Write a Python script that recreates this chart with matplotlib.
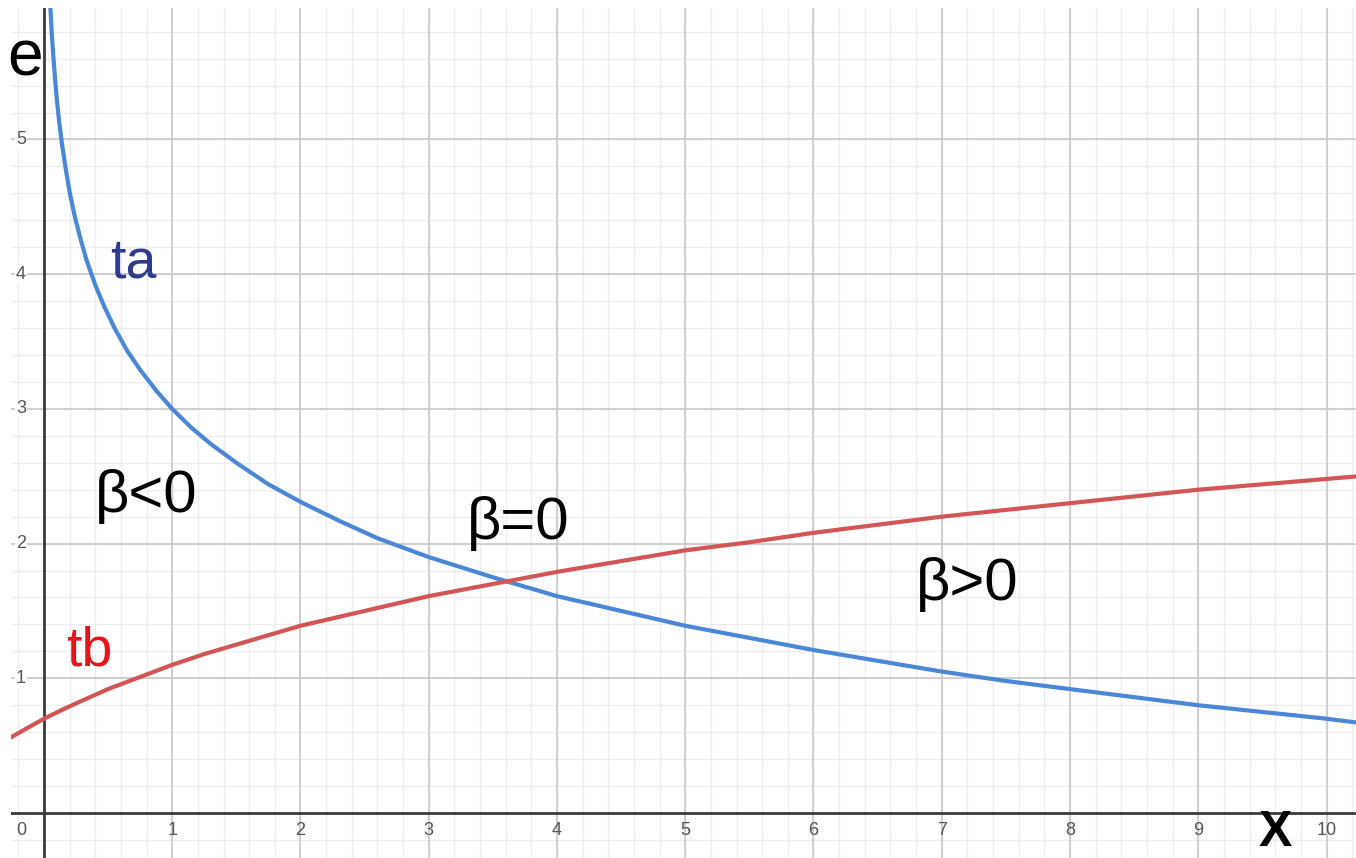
import matplotlib.pyplot as plt
import numpy as np

# ---- data ----
ta_x = [0.05, 0.06, 0.07, 0.08, 0.09, 0.1, 0.12, 0.14, 0.17, 0.2, 0.24, 0.28,
        0.33, 0.4, 0.47, 0.55, 0.65, 0.75, 0.88, 1.0, 1.15, 1.3, 1.5, 1.75,
        2.0, 2.3, 2.6, 3.0, 3.5, 4.0, 4.5, 5.0, 5.5, 6.0, 6.5, 7.0, 7.5, 8.0,
        8.5, 9.0, 9.5, 10.0, 10.25]
ta_y = [5.98, 5.80, 5.66, 5.53, 5.41, 5.30, 5.12, 4.97, 4.78, 4.61, 4.43, 4.28,
        4.11, 3.92, 3.76, 3.60, 3.43, 3.29, 3.13, 3.00, 2.86, 2.74, 2.60, 2.44,
        2.31, 2.17, 2.04, 1.90, 1.75, 1.61, 1.50, 1.39, 1.30, 1.21, 1.13, 1.05, 0.98, 0.92,
        0.86, 0.80, 0.75, 0.70, 0.67]

tb_x = [-0.26, -0.15, 0.0, 0.15, 0.3, 0.5, 0.75, 1.0, 1.25, 1.5, 1.75, 2.0,
        2.5, 3.0, 3.5, 4.0, 4.5, 5.0, 5.5, 6.0, 6.5, 7.0, 7.5, 8.0, 8.5, 9.0, 9.5,
        10.0, 10.25]
tb_y = [0.56, 0.62, 0.70, 0.77, 0.835, 0.92, 1.01, 1.10, 1.18, 1.25, 1.32, 1.39,
        1.50, 1.61, 1.70, 1.79, 1.87, 1.95, 2.01, 2.08, 2.14, 2.20, 2.25, 2.30, 2.35, 2.40, 2.44,
        2.48, 2.50]

x_ticks = [0, 1, 2, 3, 4, 5, 6, 7, 8, 9, 10]
y_ticks = [1, 2, 3, 4, 5]

XMIN, XMAX = -0.257, 10.23
YMIN, YMAX = -0.334, 5.976

plt.rcParams['font.family'] = ['Liberation Sans', 'DejaVu Sans']

fig = plt.figure(figsize=(13.56, 8.58), dpi=100)
ax = fig.add_axes([11 / 1356, 0, 1345 / 1356, 850 / 858])
ax.set_xlim(XMIN, XMAX)
ax.set_ylim(YMIN, YMAX)
for s in ax.spines.values():
    s.set_visible(False)
ax.set_xticks([])
ax.set_yticks([])

# grid: minor every 0.2, major every 1
for gx in np.arange(-0.2, 10.3, 0.2):
    ax.axvline(gx, color='#ededed', lw=1, zorder=0)
for gy in np.arange(-0.2, 6.0, 0.2):
    ax.axhline(gy, color='#ededed', lw=1, zorder=0)
for gx in x_ticks[1:]:
    ax.axvline(gx, color='#c8c8c8', lw=1.2, zorder=0.5)
for gy in y_ticks:
    ax.axhline(gy, color='#c8c8c8', lw=1.2, zorder=0.5)

# axes
ax.axhline(0, color='#3a3a3a', lw=2, zorder=1)
ax.axvline(0, color='#3a3a3a', lw=2, zorder=1)

# tick labels
for t in x_ticks:
    xx = -0.18 if t == 0 else t
    ax.text(xx, -0.13, str(t), ha='center', va='center', fontsize=13, color='#555555')
for t in y_ticks:
    ax.text(-0.18, t, str(t), ha='center', va='center', fontsize=13, color='#555555',
            bbox=dict(facecolor='white', edgecolor='none', pad=0.5))

# curves
ax.plot(ta_x, ta_y, color='#4a87d6', lw=3, solid_capstyle='round', zorder=3)
ax.plot(tb_x, tb_y, color='#d45555', lw=3, solid_capstyle='round', zorder=3)

# labels
ax.text(-0.15, 5.6, 'e', fontsize=46, ha='center', va='center', color='black', clip_on=False)
ax.text(9.6, -0.15, 'X', fontsize=36, ha='center', va='center', color='black', fontweight='bold')
ax.text(0.7, 4.08, 'ta', fontsize=40, ha='center', va='center', color='#2e3a8e')
ax.text(0.35, 1.2, 'tb', fontsize=40, ha='center', va='center', color='#e8141c')
ax.text(0.8, 2.35, 'β<0', fontsize=43, ha='center', va='center', color='black')
ax.text(3.7, 2.15, 'β=0', fontsize=43, ha='center', va='center', color='black')
ax.text(7.2, 1.7, 'β>0', fontsize=43, ha='center', va='center', color='black')

fig.savefig('out.png', dpi=100)
